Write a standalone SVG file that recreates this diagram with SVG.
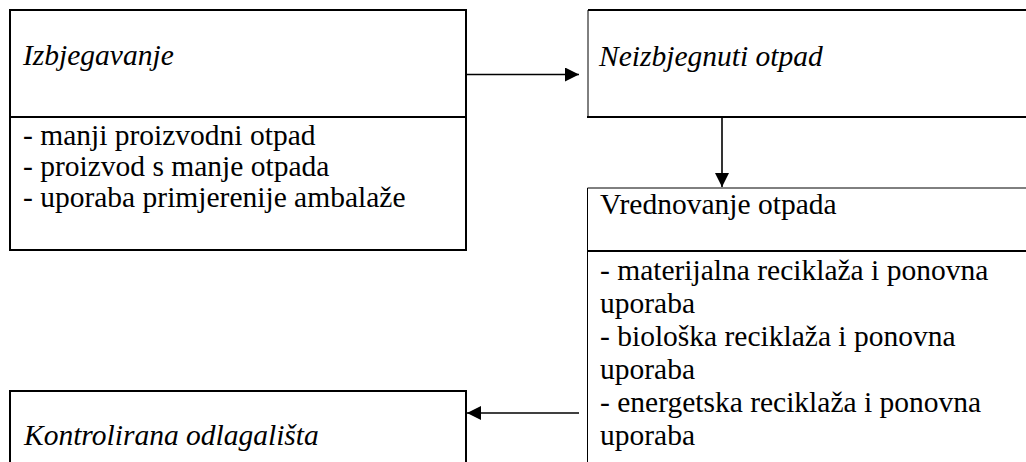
<svg xmlns="http://www.w3.org/2000/svg" width="1026" height="462" viewBox="0 0 1026 462">
<style>
.t{font-family:"Liberation Serif","Times New Roman",serif;font-size:29.5px;fill:#000}
.i{font-style:italic}
.thick{stroke:#000;stroke-width:2;fill:none}
.thin{stroke:#000;stroke-width:1;fill:none}
.conn{stroke:#000;stroke-width:1.6;fill:none}
</style>
<defs>
<marker id="ah" markerWidth="14" markerHeight="14" viewBox="0 0 14 14" refX="14" refY="7" orient="auto" markerUnits="userSpaceOnUse">
<path d="M0,0 L14,7 L0,14 Z" fill="#000"/>
</marker>
</defs>
<rect width="1026" height="462" fill="#fff"/>
<g id="izbjegavanje">
<rect class="thick" x="10" y="10" width="456" height="240"/>
<line class="thick" x1="10" y1="117" x2="466" y2="117"/>
<text class="t i" x="23" y="65">Izbjegavanje</text>
<text class="t" x="23" y="145">- manji proizvodni otpad</text>
<text class="t" x="23" y="176">- proizvod s manje otpada</text>
<text class="t" x="23" y="207">- uporaba primjerenije ambalaže</text>
</g>
<g id="neizbjegnuti">
<line class="thick" x1="588" y1="10" x2="1030" y2="10"/>
<line class="thick" x1="587" y1="117" x2="1030" y2="117"/>
<line class="thin" x1="588" y1="10" x2="588" y2="117"/>
<text class="t i" x="599" y="66">Neizbjegnuti otpad</text>
</g>
<g id="vrednovanje">
<line class="thin" x1="587.5" y1="188" x2="1030" y2="188"/>
<line class="thick" x1="587" y1="251" x2="1030" y2="251"/>
<line class="thin" x1="587.5" y1="188" x2="587.5" y2="470"/>
<text class="t" x="600" y="214">Vrednovanje otpada</text>
<text class="t" x="600" y="280">- materijalna reciklaža i ponovna</text>
<text class="t" x="600" y="313">uporaba</text>
<text class="t" x="600" y="346">- biološka reciklaža i ponovna</text>
<text class="t" x="600" y="379">uporaba</text>
<text class="t" x="600" y="412">- energetska reciklaža i ponovna</text>
<text class="t" x="600" y="445">uporaba</text>
</g>
<g id="odlagalista">
<path class="thick" d="M10,470 V391 H466 V470"/>
<text class="t i" x="24" y="445">Kontrolirana odlagališta</text>
</g>
<g id="connectors">
<line class="conn" x1="467" y1="74.5" x2="579" y2="74.5" marker-end="url(#ah)"/>
<line class="conn" x1="722" y1="118" x2="722" y2="187" marker-end="url(#ah)"/>
<line class="conn" x1="579" y1="413" x2="467" y2="413" marker-end="url(#ah)"/>
</g>
</svg>
